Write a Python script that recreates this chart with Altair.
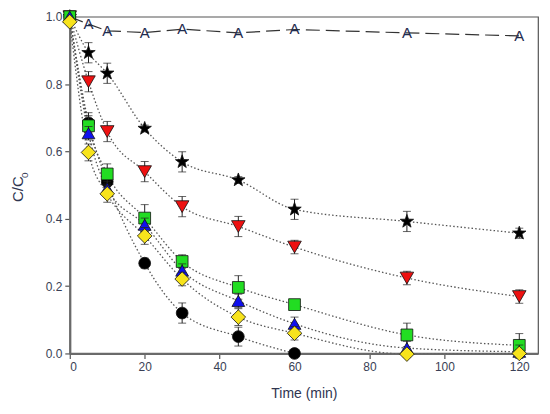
import altair as alt
import pandas as pd

times = [0, 5, 10, 20, 30, 45, 60, 90, 120]

a_vals = [1.0, 0.978, 0.958, 0.953, 0.963, 0.952, 0.962, 0.952, 0.943]

star_vals = [1.0, 0.893, 0.832, 0.668, 0.569, 0.515, 0.428, 0.392, 0.357]
star_err = [0.0, 0.03, 0.03, 0.01, 0.03, 0.01, 0.03, 0.03, 0.015]

red_vals = [1.0, 0.807, 0.659, 0.540, 0.436, 0.377, 0.316, 0.224, 0.169]
red_err = [0.0, 0.03, 0.03, 0.03, 0.03, 0.03, 0.02, 0.02, 0.02]

green_vals = [1.0, 0.676, 0.533, 0.402, 0.273, 0.196, 0.145, 0.055, 0.024]
green_err = [0.0, 0.03, 0.03, 0.04, 0.02, 0.035, 0.01, 0.035, 0.035]

blue_vals = [1.0, 0.654, 0.490, 0.382, 0.246, 0.156, 0.088, 0.016, 0.005]
blue_err = [0.0, 0.02, 0.02, 0.02, 0.02, 0.02, 0.02, 0.02, 0.02]

yellow_vals = [0.985, 0.597, 0.474, 0.349, 0.221, 0.108, 0.060, -0.002, 0.0]
yellow_err = [0.0, 0.025, 0.025, 0.025, 0.02, 0.025, 0.02, 0.01, 0.01]

black_times = [0, 5, 10, 20, 30, 45, 60]
black_vals = [1.0, 0.685, 0.510, 0.268, 0.120, 0.050, 0.0]
black_err = [0.0, 0.03, 0.03, 0.015, 0.03, 0.028, 0.0]

y_title_main = "C/C"
y_title_sub = "0"

STAR = ("M0,-1L0.235,-0.324L0.951,-0.309L0.380,0.124L0.588,0.809L0,0.4"
        "L-0.588,0.809L-0.380,0.124L-0.951,-0.309L-0.235,-0.324Z")

series = [
    ("black", black_times, black_vals, black_err, "circle", "#000000", 140),
    ("star", times, star_vals, star_err, STAR, "#000000", 200),
    ("red", times, red_vals, red_err, "triangle-down", "#ee1111", 185),
    ("green", times, green_vals, green_err, "square", "#22dd22", 140),
    ("blue", times, blue_vals, blue_err, "triangle-up", "#1010ee", 165),
    ("yellow", times, yellow_vals, yellow_err, "diamond", "#f7e31c", 215),
]

rows = []
for i, (name, ts, vs, es, shp, col, sz) in enumerate(series):
    for t, v, e in zip(ts, vs, es):
        rows.append({"series": name, "order": i, "t": t, "v": v,
                     "lo": v - e, "hi": v + e, "err": e})
df = pd.DataFrame(rows)
dfa = pd.DataFrame({"t": times, "v": a_vals})

xs = alt.Scale(domain=[0, 125], nice=False, zero=False)
ys = alt.Scale(domain=[0, 1.0], nice=False, zero=False, clamp=False)

X = alt.X("t:Q", scale=xs, title="Time (min)",
          axis=alt.Axis(values=[0, 20, 40, 60, 80, 100, 120]))
Y = alt.Y("v:Q", scale=ys, title=None,
          axis=alt.Axis(values=[0, 0.2, 0.4, 0.6, 0.8, 1.0], format=".1f"))

base = alt.Chart(df)

fits = base.mark_line(strokeDash=[1.5, 2.2], color="#555555", strokeWidth=1.3,
                      interpolate="monotone", clip=True).encode(
    x=X, y=Y, detail="series:N", order="t:Q")

aline = alt.Chart(dfa).mark_line(strokeDash=[14, 6], color="#333333",
                                 strokeWidth=1.2).encode(x=X, y=Y)
atext = alt.Chart(dfa).mark_text(text="A", fontSize=15, font="Liberation Sans",
                                 color="#1f2b4f", baseline="middle",
                                 align="center").encode(x=X, y=Y)

tdf = pd.DataFrame({"k": [0]})
ytitle = alt.Chart(tdf).mark_text(
    text=y_title_main, angle=270, fontSize=15, font="Liberation Sans",
    color="#2f3550", align="center", baseline="middle").encode(
    x=alt.value(-52), y=alt.value(173))
ysub = alt.Chart(tdf).mark_text(
    text=y_title_sub, angle=270, fontSize=10, font="Liberation Sans",
    color="#2f3550", align="center", baseline="middle").encode(
    x=alt.value(-45), y=alt.value(159))

layers = [fits, aline, atext, ytitle, ysub]
for name, ts, vs, es, shp, col, sz in series:
    sub = df[(df.series == name) & (df.err > 0)]
    s = alt.Chart(sub)
    layers.append(s.mark_rule(color="#222222", strokeWidth=1).encode(
        x=alt.X("t:Q", scale=xs), y=alt.Y("lo:Q", scale=ys), y2="hi:Q"))
    layers.append(s.mark_tick(color="#222222", orient="horizontal", size=8,
                              thickness=1).encode(
        x=alt.X("t:Q", scale=xs), y=alt.Y("hi:Q", scale=ys)))
    layers.append(s.mark_tick(color="#222222", orient="horizontal", size=8,
                              thickness=1).encode(
        x=alt.X("t:Q", scale=xs), y=alt.Y("lo:Q", scale=ys)))
    pts = alt.Chart(df[df.series == name]).mark_point(
        shape=shp, filled=True, fill=col, stroke="#111111", strokeWidth=0.8,
        size=sz, opacity=1).encode(x=alt.X("t:Q", scale=xs),
                                   y=alt.Y("v:Q", scale=ys))
    layers.append(pts)

chart = alt.layer(*layers).properties(
    width=470, height=338,
    autosize=alt.AutoSizeParams(type="none"),
    padding={"left": 62, "top": 8, "right": 4, "bottom": 50},
).configure_view(
    stroke="#555555", strokeWidth=1.2
).configure_axis(
    grid=False, labelFont="Liberation Sans", titleFont="Liberation Sans",
    labelFontSize=12, titleFontSize=14, labelColor="#3a3f55",
    titleColor="#2f3550", titleFontWeight="normal",
    domainColor="#6a6a6a", domainWidth=2.2, tickColor="#555555",
    tickSize=5, tickWidth=1.2, labelPadding=3,
).configure_axisX(titlePadding=14)

chart.save("out.html", embed_options={"renderer": "svg", "actions": False})
